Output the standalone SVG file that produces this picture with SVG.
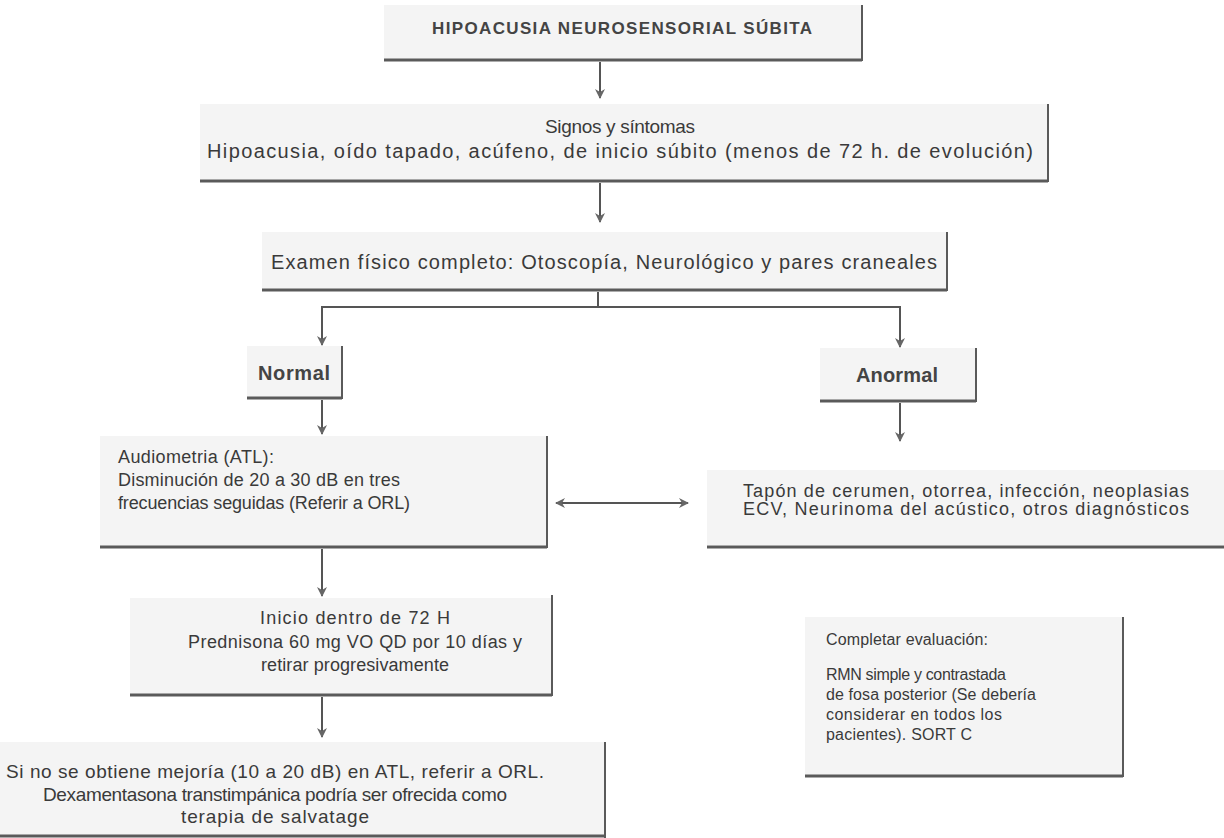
<svg xmlns="http://www.w3.org/2000/svg" width="1224" height="838" viewBox="0 0 1224 838">
<style>
.box{fill:#f4f4f4}
.sh{stroke:#5a5a5a;stroke-width:3;fill:none}
.sr{stroke:#5a5a5a;stroke-width:2;fill:none}
.t{font-family:"Liberation Sans",Arial,sans-serif;fill:#3a3a3a}
.c{text-anchor:middle}
.b{font-weight:bold;fill:#444}
.ln{stroke:#555;stroke-width:2;fill:none}
</style>
<defs>
<marker id="ah" viewBox="0 0 10 10" refX="9" refY="5" markerWidth="5" markerHeight="5" orient="auto-start-reverse">
<path d="M0,0 L10,5 L0,10 L3,5 Z" fill="#666"/>
</marker>
</defs>
<rect width="1224" height="838" fill="#fff"/>

<g id="n-top">
<rect class="box" x="384" y="5" width="477" height="55"/>
<line class="sh" x1="384" y1="60" x2="862" y2="60"/>
<line class="sr" x1="862" y1="5" x2="862" y2="61"/>
<text class="t c b" x="622" y="34" font-size="17" textLength="380">HIPOACUSIA  NEUROSENSORIAL SÚBITA</text>
</g>

<g id="n-signos">
<rect class="box" x="200" y="104" width="847" height="76"/>
<line class="sh" x1="200" y1="181" x2="1048" y2="181"/>
<line class="sr" x1="1048" y1="104" x2="1048" y2="182"/>
<text class="t c" x="620" y="133" font-size="19" textLength="150">Signos y síntomas</text>
<text class="t c" x="620" y="158" font-size="20" textLength="826">Hipoacusia, oído tapado, acúfeno, de inicio súbito (menos de 72 h. de evolución)</text>
</g>

<g id="n-examen">
<rect class="box" x="262" y="232" width="684" height="57"/>
<line class="sh" x1="262" y1="290" x2="947" y2="290"/>
<line class="sr" x1="947" y1="232" x2="947" y2="291"/>
<text class="t c" x="604" y="269" font-size="20" textLength="666">Examen físico completo: Otoscopía, Neurológico y pares craneales</text>
</g>

<g id="n-normal">
<rect class="box" x="247" y="346" width="94" height="52"/>
<line class="sh" x1="247" y1="398" x2="342" y2="398"/>
<line class="sr" x1="342" y1="346" x2="342" y2="399"/>
<text class="t c b" x="294" y="380" font-size="20" textLength="72">Normal</text>
</g>

<g id="n-anormal">
<rect class="box" x="820" y="348" width="155" height="52"/>
<line class="sh" x1="820" y1="401" x2="976" y2="401"/>
<line class="sr" x1="976" y1="348" x2="976" y2="402"/>
<text class="t c b" x="897" y="382" font-size="20" textLength="82">Anormal</text>
</g>

<g id="n-audiometria">
<rect class="box" x="100" y="436" width="446" height="110"/>
<line class="sh" x1="100" y1="547" x2="547" y2="547"/>
<line class="sr" x1="547" y1="436" x2="547" y2="548"/>
<text class="t" x="118" y="463" font-size="18" textLength="156">Audiometria  (ATL):</text>
<text class="t" x="118" y="486" font-size="18" textLength="282">Disminución de 20 a 30 dB  en tres</text>
<text class="t" x="118" y="509" font-size="18" textLength="292">frecuencias seguidas (Referir  a ORL)</text>
</g>

<g id="n-tapon">
<rect class="box" x="707" y="470" width="517" height="75"/>
<line class="sh" x1="707" y1="547" x2="1224" y2="547"/>
<text class="t c" x="966" y="497" font-size="18" textLength="446">Tapón de cerumen, otorrea, infección, neoplasias</text>
<text class="t c" x="966" y="515" font-size="18" textLength="446">ECV, Neurinoma del acústico, otros diagnósticos</text>
</g>

<g id="n-inicio">
<rect class="box" x="130" y="598" width="421" height="96"/>
<line class="sh" x1="130" y1="695" x2="552" y2="695"/>
<line class="sr" x1="552" y1="595" x2="552" y2="696"/>
<text class="t c" x="355" y="624" font-size="18" textLength="190">Inicio dentro de 72 H</text>
<text class="t c" x="355" y="648" font-size="18" textLength="334">Prednisona 60 mg VO QD por 10 días y</text>
<text class="t c" x="355" y="671" font-size="18" textLength="188">retirar progresivamente</text>
</g>

<g id="n-completar">
<rect class="box" x="805" y="617" width="317" height="158"/>
<line class="sh" x1="805" y1="776" x2="1123" y2="776"/>
<line class="sr" x1="1123" y1="617" x2="1123" y2="777"/>
<text class="t" x="826" y="645" font-size="16" textLength="162">Completar evaluación:</text>
<text class="t" x="826" y="680" font-size="16" textLength="180">RMN simple y contrastada</text>
<text class="t" x="826" y="700" font-size="16" textLength="210">de fosa posterior (Se debería</text>
<text class="t" x="826" y="720" font-size="16" textLength="176">considerar en todos los</text>
<text class="t" x="826" y="740" font-size="16" textLength="146">pacientes). SORT C</text>
</g>

<g id="n-final">
<rect class="box" x="0" y="742" width="604" height="94"/>
<line class="sh" x1="0" y1="836" x2="605" y2="836"/>
<line class="sr" x1="605" y1="742" x2="605" y2="838"/>
<text class="t c" x="275" y="778" font-size="19" textLength="538">Si no se obtiene mejoría (10 a 20 dB) en ATL, referir a ORL.</text>
<text class="t c" x="275" y="801" font-size="19" textLength="464">Dexamentasona  transtimpánica podría ser ofrecida como</text>
<text class="t c" x="275" y="823" font-size="19" textLength="188">terapia de salvatage</text>
</g>

<g id="connectors">
<line class="ln" x1="600" y1="62" x2="600" y2="98" marker-end="url(#ah)"/>
<line class="ln" x1="600" y1="183" x2="600" y2="222" marker-end="url(#ah)"/>
<polyline class="ln" points="598,292 598,306"/>
<polyline class="ln" points="322,345 322,307 900,307 900,347" marker-start="url(#ah)" marker-end="url(#ah)"/>
<line class="ln" x1="322" y1="400" x2="322" y2="434" marker-end="url(#ah)"/>
<line class="ln" x1="900" y1="403" x2="900" y2="441" marker-end="url(#ah)"/>
<line class="ln" x1="556" y1="503" x2="688" y2="503" marker-start="url(#ah)" marker-end="url(#ah)"/>
<line class="ln" x1="322" y1="549" x2="322" y2="596" marker-end="url(#ah)"/>
<line class="ln" x1="322" y1="697" x2="322" y2="737" marker-end="url(#ah)"/>
</g>
</svg>
